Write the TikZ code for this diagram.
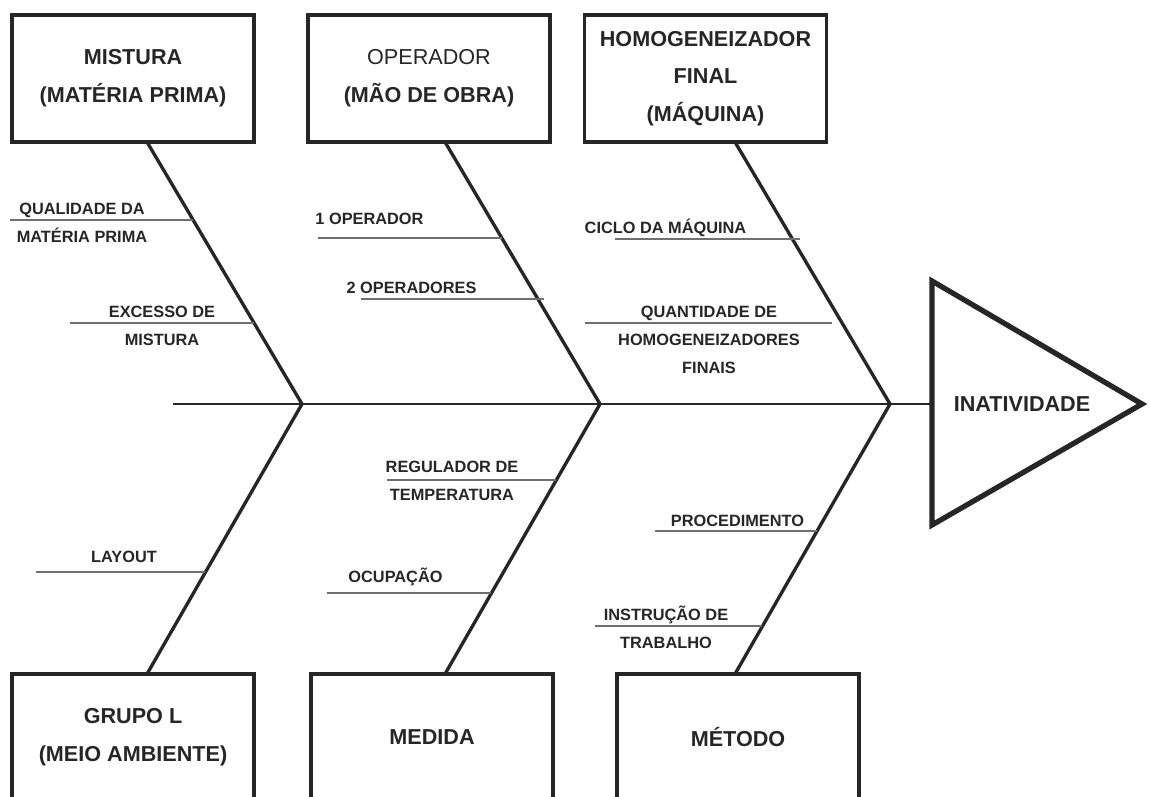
\documentclass[tikz,border=0pt]{standalone}
\usepackage{fontspec}
\setmainfont{Liberation Sans}
\usetikzlibrary{calc}

\definecolor{ink}{HTML}{262626}
\definecolor{rule}{HTML}{707070}

\tikzset{
	causebox/.style={draw=ink, line width=2.2pt, minimum width=4.84cm, minimum height=2.54cm,
		inner sep=0pt, align=center, text=ink, font=\fontsize{12.3}{21.5}\selectfont\bfseries},
	causelabel/.style={inner sep=0pt, align=center, text=ink, font=\fontsize{9.3}{16}\selectfont\bfseries},
	bone/.style={draw=ink, line width=1.9pt, line join=miter},
	spine/.style={draw=ink, line width=1.3pt},
	subline/.style={draw=rule, line width=1.1pt},
	head/.style={draw=ink, line width=3pt, line join=miter},
}

\begin{document}
\begin{tikzpicture}[x=0.02cm, y=-0.02cm]

\def\width{1150}
\def\height{797}
\def\spy{404}

\path [use as bounding box] (0,0) rectangle (\width,\height);
\clip (0,0) rectangle (\width,\height);

% BOXES
\node [causebox] (mistura) at (133,78.5) {MISTURA\\(MATÉRIA PRIMA)};
\node [causebox] (operador) at (429,78.5) {{\mdseries OPERADOR}\\(MÃO DE OBRA)};
\node [causebox] (maquina) at (705.5,78.5) {HOMOGENEIZADOR\\FINAL\\(MÁQUINA)};

\node [causebox] (grupo) at (133,737.5) {GRUPO L\\(MEIO AMBIENTE)};
\node [causebox] (medida) at (432,737.5) {MEDIDA};
\node [causebox] (metodo) at (738,737.5) {MÉTODO};

% HEAD
\coordinate (headtop) at (932,281);
\coordinate (headtip) at (1142,\spy);
\coordinate (headbot) at (932,525);
\coordinate (headin) at (932,\spy);
\draw [head] (headtop) -- (headtip) -- (headbot) -- cycle;
\node [causebox, draw=none, minimum width=0pt, minimum height=0pt] (inatividade) at (1022,\spy) {INATIVIDADE};

% SPINE
\coordinate (tail) at (173,\spy);
\draw [spine] (tail) -- (headin);

% BONES
\coordinate (j1) at (302,\spy);
\coordinate (j2) at (600,\spy);
\coordinate (j3) at (890,\spy);
\coordinate (t1) at (147,142);
\coordinate (t2) at (445,142);
\coordinate (t3) at (735,142);
\coordinate (b1) at (147,674);
\coordinate (b2) at (445,674);
\coordinate (b3) at (735,674);
\foreach \t/\j/\b in {t1/j1/b1, t2/j2/b2, t3/j3/b3}
	\draw [bone] (\t) -- (\j) -- (\b);

% CAUSE LINES
% #1 : name
% #2 : x start
% #3 : x end
% #4 : y
\newcommand{\causeline}[4]{%
	\coordinate (#1 from) at (#2,#4);
	\coordinate (#1 to) at (#3,#4);
	\draw [subline] (#1 from) -- (#1 to)%
}
\causeline{qualidade}{10}{193}{220};
\causeline{excesso}{70}{254}{323};
\causeline{umop}{318}{502}{238};
\causeline{doisop}{361}{544}{299};
\causeline{ciclo}{615}{800}{239};
\causeline{quantidade}{585}{832}{323};
\causeline{regulador}{387}{556}{480};
\causeline{layout}{36}{205}{572};
\causeline{ocupacao}{327}{491}{593};
\causeline{procedimento}{655}{817}{531};
\causeline{instrucao}{595}{762}{626};

% LABELS
\node [causelabel] (qualidadetxt) at (82,223) {QUALIDADE DA\\MATÉRIA PRIMA};
\node [causelabel] (excessotxt) at (162,326) {EXCESSO DE\\MISTURA};
\node [causelabel] (umoptxt) at (369.5,219) {1 OPERADOR};
\node [causelabel] (doisoptxt) at (411.5,288) {2 OPERADORES};
\node [causelabel] (ciclotxt) at (665.5,228) {CICLO DA MÁQUINA};
\node [causelabel] (quantidadetxt) at (709,339.5) {QUANTIDADE DE\\HOMOGENEIZADORES\\FINAIS};
\node [causelabel] (reguladortxt) at (452,481) {REGULADOR DE\\TEMPERATURA};
\node [causelabel] (layouttxt) at (124,557) {LAYOUT};
\node [causelabel] (ocupacaotxt) at (395.5,577) {OCUPAÇÃO};
\node [causelabel] (procedimentotxt) at (737.5,521) {PROCEDIMENTO};
\node [causelabel] (instrucaotxt) at (666,627) {INSTRUÇÃO DE\\TRABALHO};

\end{tikzpicture}
\end{document}
